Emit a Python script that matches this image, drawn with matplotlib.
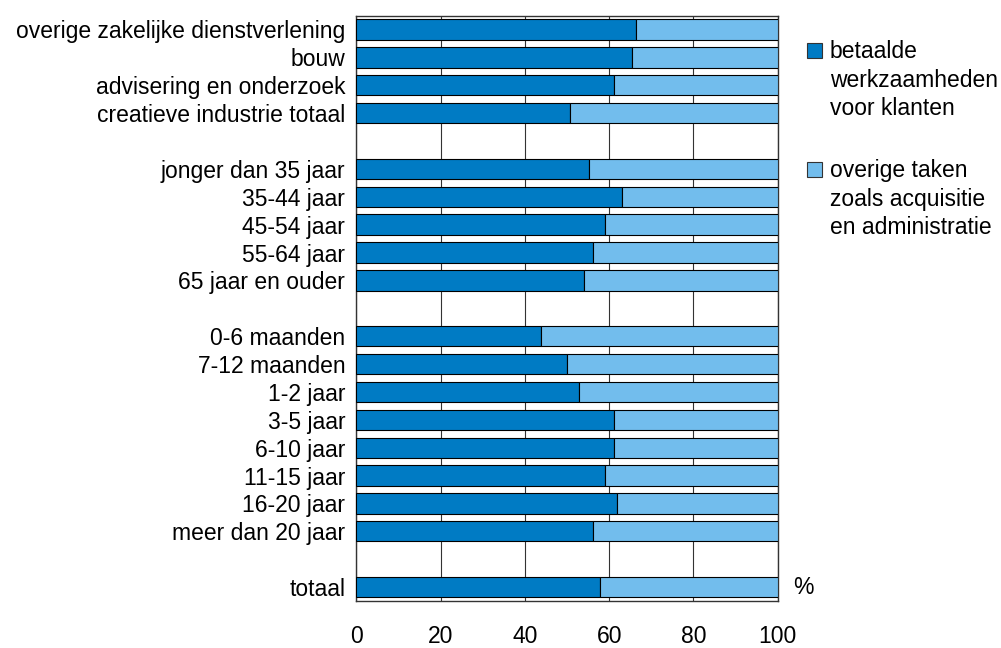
import matplotlib.pyplot as plt
import numpy as np
from matplotlib.patches import Rectangle

plt.rcParams['font.family'] = ['Liberation Sans', 'DejaVu Sans']

# categories, top to bottom; None marks an empty row between groups
labels = ['overige zakelijke dienstverlening', 'bouw', 'advisering en onderzoek',
          'creatieve industrie totaal', None,
          'jonger dan 35 jaar', '35-44 jaar', '45-54 jaar', '55-64 jaar',
          '65 jaar en ouder', None,
          '0-6 maanden', '7-12 maanden', '1-2 jaar', '3-5 jaar', '6-10 jaar',
          '11-15 jaar', '16-20 jaar', 'meer dan 20 jaar', None,
          'totaal']

# share of paid work for clients (%), None for the empty rows
betaald = [66.4, 65.4, 61.2, 50.8, None,
           55.1, 63.0, 59.0, 56.1, 54.1, None,
           43.9, 50.0, 52.9, 61.2, 61.2, 59.0, 61.9, 56.1, None,
           57.9]

legend_labels = ['betaalde\nwerkzaamheden\nvoor klanten',
                 'overige taken\nzoals acquisitie\nen administratie']
dark = '#007BC4'
light = '#72BDED'

fig = plt.figure(figsize=(10.01, 6.48), dpi=100)
ax = fig.add_axes([0.356, 0.0725, 0.421, 0.9035])

pos = np.arange(len(labels))
idx = [i for i, v in enumerate(betaald) if v is not None]
vals = np.array([betaald[i] for i in idx])
ax.barh(pos[idx], vals, height=0.73, color=dark, edgecolor='black', linewidth=0.8, zorder=3)
ax.barh(pos[idx], 100 - vals, left=vals, height=0.73, color=light, edgecolor='black',
        linewidth=0.8, zorder=3)

ax.set_xlim(0, 100)
ax.set_ylim(len(labels) - 0.5, -0.5)
ax.set_xticks([0, 20, 40, 60, 80, 100])
ax.set_yticks(pos[idx])
ax.set_yticklabels([labels[i] for i in idx])
ax.tick_params(axis='both', length=0, labelsize=16.5)
ax.tick_params(axis='x', pad=17)
ax.tick_params(axis='y', pad=8)
ax.grid(axis='x', color='#333333', linewidth=0.8, zorder=0)
for s in ax.spines.values():
    s.set_color('#333333')
    s.set_linewidth(1.0)

ax.text(1.06, len(labels) - 1, '%', transform=ax.get_yaxis_transform(),
        ha='center', va='center', fontsize=16.5)

# legend drawn by hand to match the spacing
for k, (txt, col) in enumerate(zip(legend_labels, [dark, light])):
    ytop = 1 - (43 + k * 119) / 648
    fig.patches.append(Rectangle((807 / 1001, ytop - 15 / 648), 15 / 1001, 15 / 648,
                                 transform=fig.transFigure, facecolor=col,
                                 edgecolor='#333333', linewidth=0.8))
    fig.text(830 / 1001, ytop + 3 / 648, txt, ha='left', va='top', fontsize=16.5,
             linespacing=1.31)

fig.savefig('out.png', dpi=100)
